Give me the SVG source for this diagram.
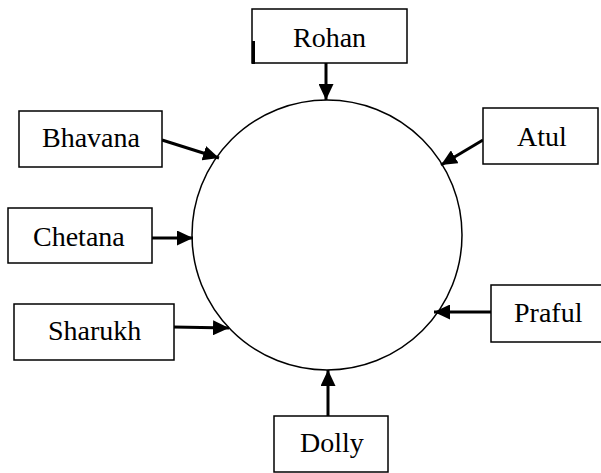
<svg xmlns="http://www.w3.org/2000/svg" width="601" height="473" viewBox="0 0 601 473">
<style>
.box{fill:#fff;stroke:#000;stroke-width:1.5}
.lbl{font-family:"Liberation Serif","Times New Roman",serif;font-size:28px;fill:#000}
.conn{stroke:#000;stroke-width:3;fill:none}
</style>
<defs>
<marker id="ah" markerUnits="userSpaceOnUse" markerWidth="17" markerHeight="15" refX="16" refY="7.5" orient="auto">
<path d="M0,0 L16,7.5 L0,15 Z" fill="#000"/>
</marker>
</defs>
<rect width="601" height="473" fill="#fff"/>
<g id="center">
<circle cx="327" cy="235" r="135" fill="none" stroke="#000" stroke-width="1.5"/>
</g>
<g id="connectors">
<line class="conn" x1="326" y1="63" x2="326" y2="100" marker-end="url(#ah)"/>
<line class="conn" x1="483" y1="140" x2="441" y2="165" marker-end="url(#ah)"/>
<line class="conn" x1="491" y1="312" x2="434" y2="312" marker-end="url(#ah)"/>
<line class="conn" x1="328" y1="416" x2="328" y2="370" marker-end="url(#ah)"/>
<line class="conn" x1="162" y1="140" x2="219" y2="158" marker-end="url(#ah)"/>
<line class="conn" x1="150" y1="238" x2="193" y2="238" marker-end="url(#ah)"/>
<line class="conn" x1="173" y1="327" x2="229" y2="328" marker-end="url(#ah)"/>
</g>
<g id="rohan">
<rect class="box" x="252" y="9" width="155" height="54"/>
<rect x="252" y="41" width="3" height="23" fill="#000"/>
<text class="lbl" x="293" y="47">Rohan</text>
</g>
<g id="atul">
<rect class="box" x="483" y="108" width="115" height="56"/>
<text class="lbl" x="517" y="146">Atul</text>
</g>
<g id="praful">
<rect class="box" x="491" y="285" width="130" height="57"/>
<text class="lbl" x="514" y="322">Praful</text>
</g>
<g id="dolly">
<rect class="box" x="274" y="416" width="114" height="56"/>
<text class="lbl" x="300" y="452">Dolly</text>
</g>
<g id="bhavana">
<rect class="box" x="19" y="111" width="143" height="56"/>
<text class="lbl" x="42" y="147">Bhavana</text>
</g>
<g id="chetana">
<rect class="box" x="8" y="208" width="144" height="55"/>
<text class="lbl" x="33" y="246">Chetana</text>
</g>
<g id="sharukh">
<rect class="box" x="14" y="304" width="160" height="56"/>
<text class="lbl" x="48" y="340">Sharukh</text>
</g>
</svg>
